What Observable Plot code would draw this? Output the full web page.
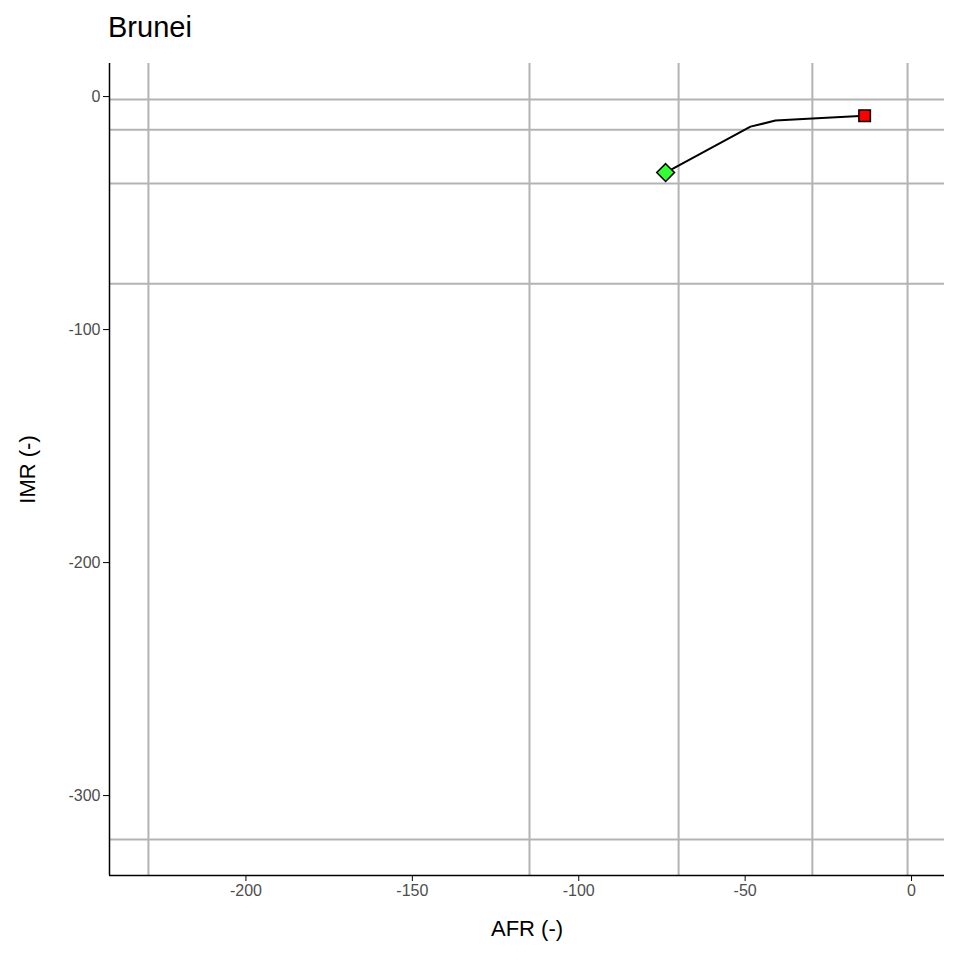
<!DOCTYPE html>
<html><head><meta charset="utf-8">
<script src="https://cdn.jsdelivr.net/npm/d3@7"></script>
<script src="https://cdn.jsdelivr.net/npm/@observablehq/plot@0.6"></script>
<style>
body{margin:0;background:#fff;font-family:"Liberation Sans",Arial,sans-serif}
#title{height:63px;box-sizing:border-box;padding:11px 0 0 108px;font-size:29px;color:#000}
</style></head>
<body>
<div id="title">Brunei</div>
<div id="chart"></div>
<script>
// trajectory of Brunei
const afr = [-73.9, -48.4, -40.9, -29.8, -14.1]
const imr = [-32.6, -12.9, -10.3, -9.4, -8.2]
// reference grid lines
const vLines = [-229.3, -114.8, -70.0, -29.8, -1.2]
const hLines = [-1.3, -14.2, -37.3, -80.3, -318.9]
const xTicks = [-200, -150, -100, -50, 0]
const yTicks = [0, -100, -200, -300]

const pts = afr.map((x, i) => ({x, y: imr[i]}))
const first = pts[0], last = pts[pts.length - 1]
const xDom = [-241, 9.9], yDom = [-334.3, 14.2]

const chart = Plot.plot({
  width: 960, height: 897,
  marginLeft: 109, marginRight: 16, marginTop: 0, marginBottom: 85,
  style: {fontFamily: "Liberation Sans, Arial, sans-serif"},
  x: {domain: xDom},
  y: {domain: yDom},
  marks: [
    Plot.ruleX(vLines, {stroke: "#b3b3b3", strokeWidth: 2}),
    Plot.ruleY(hLines, {stroke: "#b3b3b3", strokeWidth: 2}),
    Plot.axisX({ticks: xTicks, tickFormat: d => String(d), tickSize: 6, fontSize: 16, color: "#4d4d4d", stroke: "#000",
      label: "AFR (-)", labelAnchor: "center", labelArrow: "none", labelOffset: 60}),
    Plot.axisY({ticks: yTicks, tickFormat: d => String(d), tickSize: 6, fontSize: 16, color: "#4d4d4d", stroke: "#000",
      label: "IMR (-)", labelAnchor: "center", labelArrow: "none", labelOffset: 90}),
    Plot.ruleX([xDom[0]], {stroke: "#000", strokeWidth: 1.5}),
    Plot.ruleY([yDom[0]], {stroke: "#000", strokeWidth: 1.5}),
    Plot.line(pts, {x: "x", y: "y", stroke: "#000", strokeWidth: 2}),
    Plot.dot([first], {x: "x", y: "y", symbol: "diamond2", r: 8, fill: "#33ff33", stroke: "#000", strokeWidth: 1.5}),
    Plot.dot([last], {x: "x", y: "y", symbol: "square", r: 6.5, fill: "#ff0000", stroke: "#000", strokeWidth: 1.5})
  ]
})
chart.querySelectorAll('[aria-label="x-axis label"], [aria-label="x-axis label"] text, [aria-label="y-axis label"], [aria-label="y-axis label"] text')
  .forEach(t => { t.style.fontSize = "22px"; t.style.fill = "#000"; t.setAttribute("fill", "#000") })
document.getElementById("chart").append(chart)
</script>
</body></html>
